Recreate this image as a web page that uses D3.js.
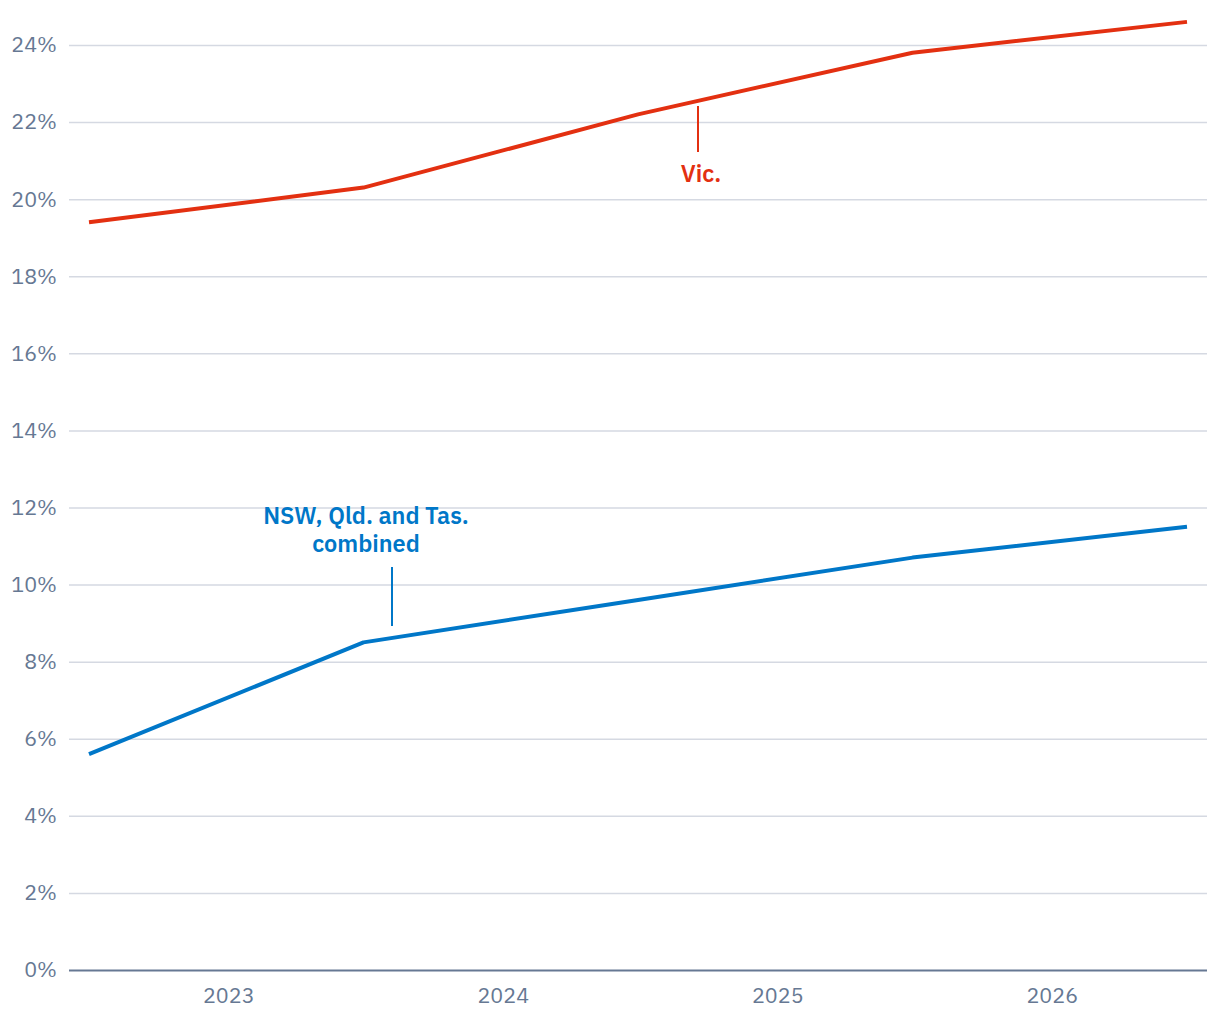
<!DOCTYPE html>
<html><head><meta charset="utf-8">
<script src="https://cdn.jsdelivr.net/npm/d3@7"></script>
<style>body{margin:0;background:#fff;}svg{display:block;}</style>
</head><body>
<svg id="c" width="1220" height="1020"></svg>
<script>
const periods = [2022.5, 2023.5, 2024.5, 2025.5, 2026.5];
const vic = [19.4, 20.3, 22.2, 23.8, 24.6];
const nswQldTas = [5.6, 8.5, 9.6, 10.7, 11.5];
const yTicks = [0, 2, 4, 6, 8, 10, 12, 14, 16, 18, 20, 22, 24];
const xTicks = [2023, 2024, 2025, 2026];

(function(){
const svg = d3.select("#c");
const pL = 69, pR = 1207, pT = 45, pB = 970;
const x = d3.scaleLinear().domain([2022.5, 2026.5]).range([89, 1187]);
const y = d3.scaleLinear().domain([0, 24]).range([pB, pT]);
const tickFont = "'IBM Plex Sans', Inter, 'Open Sans', sans-serif";
const labelFont = "'IBM Plex Sans', Inter, 'Open Sans', sans-serif";

const yAxis = d3.axisLeft(y).tickValues(yTicks).tickFormat(d => d + "%").tickSize(-(pR - pL)).tickPadding(12);
const gy = svg.append("g").attr("transform", `translate(${pL},0)`).call(yAxis);
gy.select(".domain").remove();
gy.selectAll(".tick line").attr("stroke", d => d === 0 ? "#667893" : "#d5d9e2").attr("stroke-width", d => d === 0 ? 2 : 1.5);
gy.selectAll(".tick text").attr("fill", "#667893").attr("font-size", 21.5).attr("font-family", tickFont).attr("font-weight", 400).attr("x", -12);

const xAxis = d3.axisBottom(x).tickValues(xTicks).tickFormat(d3.format("d")).tickSize(0).tickPadding(18);
const gx = svg.append("g").attr("transform", `translate(0,${pB})`).call(xAxis);
gx.select(".domain").remove();
gx.selectAll(".tick text").attr("fill", "#667893").attr("font-size", 21.5).attr("font-family", tickFont).attr("font-weight", 400).attr("dx", 2);

const line = d3.line().x((d, i) => x(periods[i])).y(d => y(d));
svg.append("path").datum(vic).attr("d", line).attr("fill", "none").attr("stroke", "#e33011").attr("stroke-width", 4).attr("stroke-linejoin", "round");
svg.append("path").datum(nswQldTas).attr("d", line).attr("fill", "none").attr("stroke", "#0077c8").attr("stroke-width", 4).attr("stroke-linejoin", "round");

svg.append("line").attr("x1", 698).attr("x2", 698).attr("y1", 106).attr("y2", 152).attr("stroke", "#e33011").attr("stroke-width", 2);
svg.append("text").attr("x", 701).attr("y", 182).attr("text-anchor", "middle").attr("fill", "#e33011")
  .attr("font-family", labelFont).attr("font-weight", 600).attr("font-size", 23.5).text("Vic.");

svg.append("line").attr("x1", 392).attr("x2", 392).attr("y1", 567).attr("y2", 626).attr("stroke", "#0077c8").attr("stroke-width", 2);
const t = svg.append("text").attr("text-anchor", "middle").attr("fill", "#0077c8")
  .attr("font-family", labelFont).attr("font-weight", 600).attr("font-size", 23.5);
t.append("tspan").attr("x", 366).attr("y", 524).text("NSW, Qld. and Tas.");
t.append("tspan").attr("x", 366).attr("y", 552).text("combined");
})();
</script>
</body></html>
